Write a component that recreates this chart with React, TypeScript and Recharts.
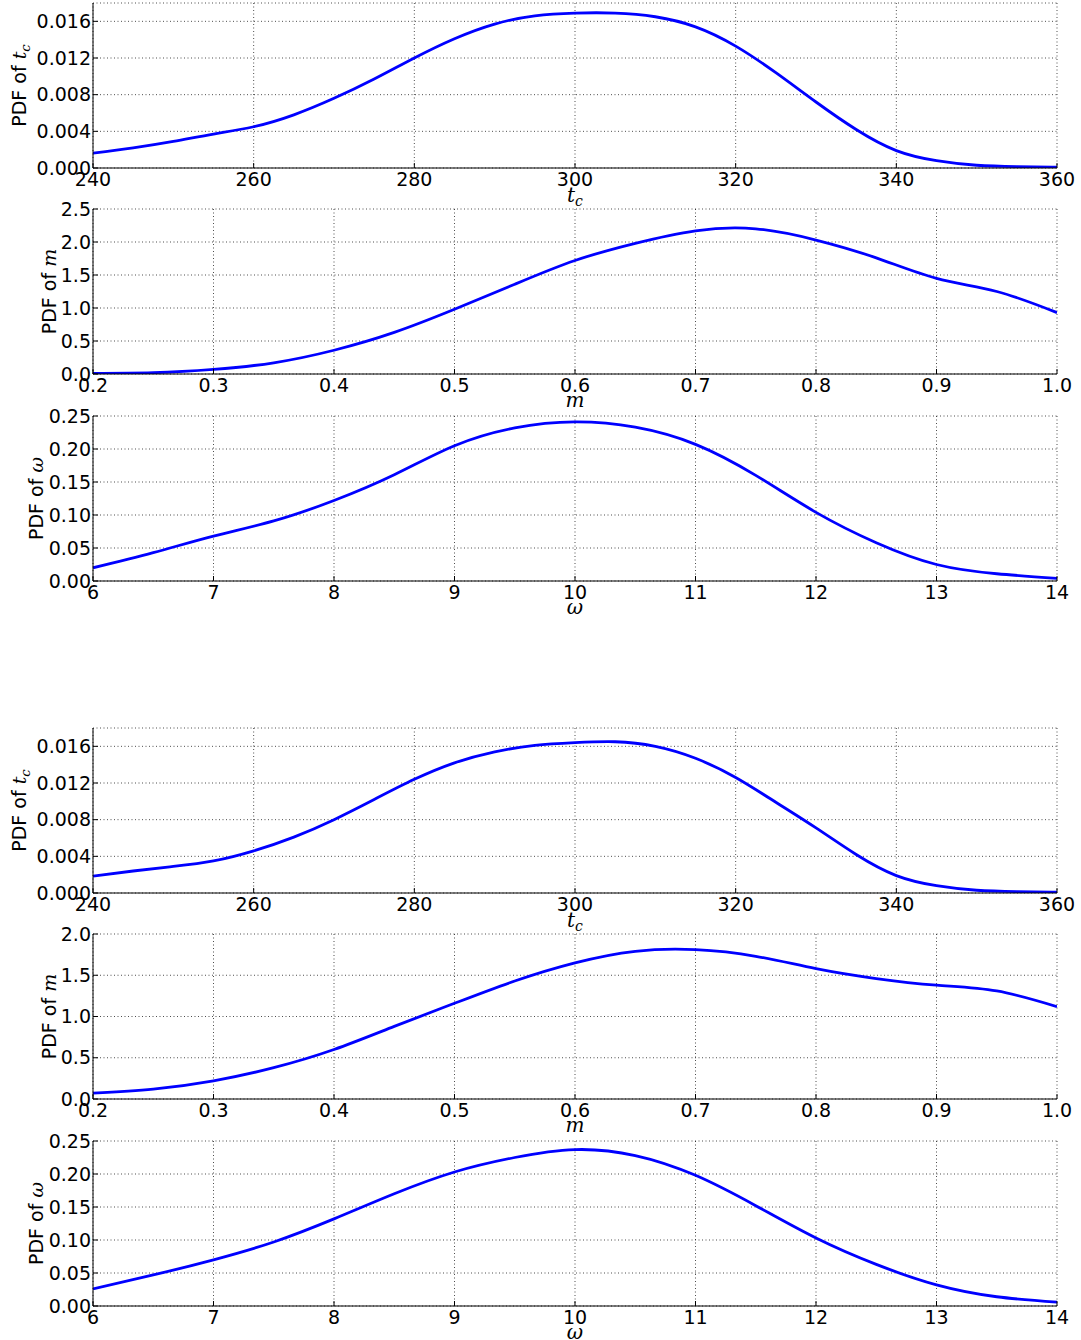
import React from 'react';
import { LineChart, Line, XAxis, YAxis, CartesianGrid } from 'recharts';

// sampling grids
const tcGrid = [240, 245, 250, 255, 260, 265, 270, 275, 280, 285, 290, 295, 300, 305, 310, 315, 320, 325, 330, 335, 340, 345, 350, 355, 360];
const mGrid = [0.2, 0.25, 0.3, 0.35, 0.4, 0.45, 0.5, 0.55, 0.6, 0.65, 0.7, 0.75, 0.8, 0.85, 0.9, 0.95, 1.0];
const wGrid = [6, 6.5, 7, 7.5, 8, 8.5, 9, 9.5, 10, 10.5, 11, 11.5, 12, 12.5, 13, 13.5, 14];

// upper figure
const tcPdfA = [0.00163, 0.0022, 0.0029, 0.0037, 0.0045, 0.0058, 0.0076, 0.0097, 0.012, 0.0141, 0.0157, 0.0166, 0.0169, 0.0169, 0.0165, 0.0154, 0.0133, 0.0104, 0.0072, 0.0042, 0.0019, 0.0008, 0.0003, 0.00015, 0.0001];
const mPdfA = [0.01, 0.02, 0.07, 0.17, 0.36, 0.63, 0.98, 1.36, 1.72, 1.98, 2.17, 2.2, 2.03, 1.76, 1.45, 1.25, 0.93];
const wPdfA = [0.02, 0.043, 0.068, 0.091, 0.122, 0.161, 0.205, 0.232, 0.241, 0.233, 0.207, 0.16, 0.104, 0.058, 0.025, 0.011, 0.004];

// lower figure
const tcPdfB = [0.00185, 0.0024, 0.0029, 0.0035, 0.0046, 0.0061, 0.008, 0.0102, 0.0124, 0.0142, 0.0154, 0.0161, 0.0164, 0.0165, 0.016, 0.0147, 0.0126, 0.0099, 0.0071, 0.0042, 0.0019, 0.0008, 0.0003, 0.00015, 0.0001];
const mPdfB = [0.07, 0.12, 0.22, 0.38, 0.6, 0.88, 1.16, 1.43, 1.65, 1.79, 1.81, 1.73, 1.58, 1.46, 1.38, 1.31, 1.12];
const wPdfB = [0.026, 0.047, 0.07, 0.097, 0.132, 0.17, 0.203, 0.225, 0.237, 0.228, 0.198, 0.152, 0.103, 0.063, 0.032, 0.014, 0.006];

// ticks
const tcTicks = [240, 260, 280, 300, 320, 340, 360];
const mTicks = [0.2, 0.3, 0.4, 0.5, 0.6, 0.7, 0.8, 0.9, 1.0];
const wTicks = [6, 7, 8, 9, 10, 11, 12, 13, 14];
const tcYTicks = [0, 0.004, 0.008, 0.012, 0.016];
const mYTicksA = [0, 0.5, 1.0, 1.5, 2.0, 2.5];
const mYTicksB = [0, 0.5, 1.0, 1.5, 2.0];
const wYTicks = [0, 0.05, 0.1, 0.15, 0.2, 0.25];

const zip = (xs: number[], ys: number[]) => xs.map((x, i) => ({ x, y: ys[i] }));

const FONT = 'DejaVu Sans';
const MATH = 'DejaVu Serif';
const tickStyle = { fontFamily: FONT, fontSize: 19, fill: '#000' };

const PAD = 15; // room above the frame for the top tick label
const PLOT_H = 165;

type Sym = 'tc' | 'm' | 'w';

const symbol = (s: Sym, size: number) => {
  if (s === 'tc')
    return (
      <>
        <tspan fontFamily={MATH} fontStyle="italic" fontSize={size}>t</tspan>
        <tspan fontFamily={MATH} fontStyle="italic" fontSize={size * 0.7} dy={4}>c</tspan>
      </>
    );
  return (
    <tspan fontFamily={MATH} fontStyle="italic" fontSize={size}>
      {s === 'm' ? 'm' : 'ω'}
    </tspan>
  );
};

interface PanelProps {
  top: number;
  data: { x: number; y: number }[];
  xDomain: [number, number];
  xTicks: number[];
  xFmt: (v: number) => string;
  yDomain: [number, number];
  yTicks: number[];
  yFmt: (v: number) => string;
  sym: Sym;
  labelX: number;
}

const Panel: React.FC<PanelProps> = ({ top, data, xDomain, xTicks, xFmt, yDomain, yTicks, yFmt, sym, labelX }) => {
  const cy = PAD + PLOT_H / 2;
  const yLabel = () => (
    <text
      x={labelX}
      y={cy}
      transform={`rotate(-90, ${labelX}, ${cy})`}
      textAnchor="middle"
      fontFamily={FONT}
      fontSize={19}
      fill="#000"
    >
      PDF of {symbol(sym, 19)}
    </text>
  );
  const xLabel = () => (
    <text x={575} y={PAD + PLOT_H + (sym === 'tc' ? 34 : 33)} textAnchor="middle" fill="#000">
      {symbol(sym, 20)}
    </text>
  );

  return (
    <div style={{ position: 'absolute', left: 0, top: top - PAD }}>
      <LineChart width={1081} height={PAD + PLOT_H + 45} data={data} margin={{ top: PAD, right: 24, bottom: 15, left: 0 }}>
        <CartesianGrid
          xAxisId="b"
          yAxisId="l"
          stroke="#000"
          strokeWidth={0.7}
          strokeDasharray="1 2.5"
        />
        <XAxis
          xAxisId="b"
          dataKey="x"
          type="number"
          domain={xDomain}
          ticks={xTicks}
          allowDataOverflow
          interval={0}
          tickFormatter={xFmt}
          tick={tickStyle}
          tickSize={-5}
          tickMargin={10}
          axisLine={{ stroke: '#000', strokeWidth: 1 }}
          tickLine={{ stroke: '#000' }}
          height={30}
          label={{ content: xLabel }}
        />
        <XAxis
          xAxisId="t"
          orientation="top"
          dataKey="x"
          type="number"
          domain={xDomain}
          ticks={xTicks}
          allowDataOverflow
          interval={0}
          tick={false}
          tickSize={-5}
          axisLine={{ stroke: '#000', strokeWidth: 1 }}
          tickLine={{ stroke: '#000' }}
          height={0}
        />
        <YAxis
          yAxisId="l"
          type="number"
          domain={yDomain}
          ticks={yTicks}
          allowDataOverflow
          interval={0}
          tickFormatter={yFmt}
          tick={tickStyle}
          tickSize={-5}
          tickMargin={7}
          axisLine={{ stroke: '#000', strokeWidth: 1 }}
          tickLine={{ stroke: '#000' }}
          width={93}
          label={{ content: yLabel }}
        />
        <YAxis
          yAxisId="r"
          orientation="right"
          type="number"
          domain={yDomain}
          ticks={yTicks}
          allowDataOverflow
          interval={0}
          tick={false}
          tickSize={-5}
          axisLine={{ stroke: '#000', strokeWidth: 1 }}
          tickLine={{ stroke: '#000' }}
          width={0}
        />
        <Line
          xAxisId="b"
          yAxisId="l"
          dataKey="y"
          type="natural"
          stroke="#0000ff"
          strokeWidth={2.8}
          dot={false}
          activeDot={false}
          isAnimationActive={false}
        />
      </LineChart>
    </div>
  );
};

const f0 = (v: number) => v.toFixed(0);
const f1 = (v: number) => v.toFixed(1);
const f2 = (v: number) => v.toFixed(2);
const f3 = (v: number) => v.toFixed(3);

const App: React.FC = () => (
  <div style={{ position: 'absolute', left: 0, top: 0, width: 1081, height: 1340, background: '#fff', overflow: 'hidden' }}>
    <Panel top={3} data={zip(tcGrid, tcPdfA)} xDomain={[240, 360]} xTicks={tcTicks} xFmt={f0}
      yDomain={[0, 0.018]} yTicks={tcYTicks} yFmt={f3} sym="tc" labelX={26} />
    <Panel top={209} data={zip(mGrid, mPdfA)} xDomain={[0.2, 1.0]} xTicks={mTicks} xFmt={f1}
      yDomain={[0, 2.5]} yTicks={mYTicksA} yFmt={f1} sym="m" labelX={56} />
    <Panel top={416} data={zip(wGrid, wPdfA)} xDomain={[6, 14]} xTicks={wTicks} xFmt={f0}
      yDomain={[0, 0.25]} yTicks={wYTicks} yFmt={f2} sym="w" labelX={43} />
    <Panel top={728} data={zip(tcGrid, tcPdfB)} xDomain={[240, 360]} xTicks={tcTicks} xFmt={f0}
      yDomain={[0, 0.018]} yTicks={tcYTicks} yFmt={f3} sym="tc" labelX={26} />
    <Panel top={934} data={zip(mGrid, mPdfB)} xDomain={[0.2, 1.0]} xTicks={mTicks} xFmt={f1}
      yDomain={[0, 2.0]} yTicks={mYTicksB} yFmt={f1} sym="m" labelX={56} />
    <Panel top={1141} data={zip(wGrid, wPdfB)} xDomain={[6, 14]} xTicks={wTicks} xFmt={f0}
      yDomain={[0, 0.25]} yTicks={wYTicks} yFmt={f2} sym="w" labelX={43} />
  </div>
);

export default App;
